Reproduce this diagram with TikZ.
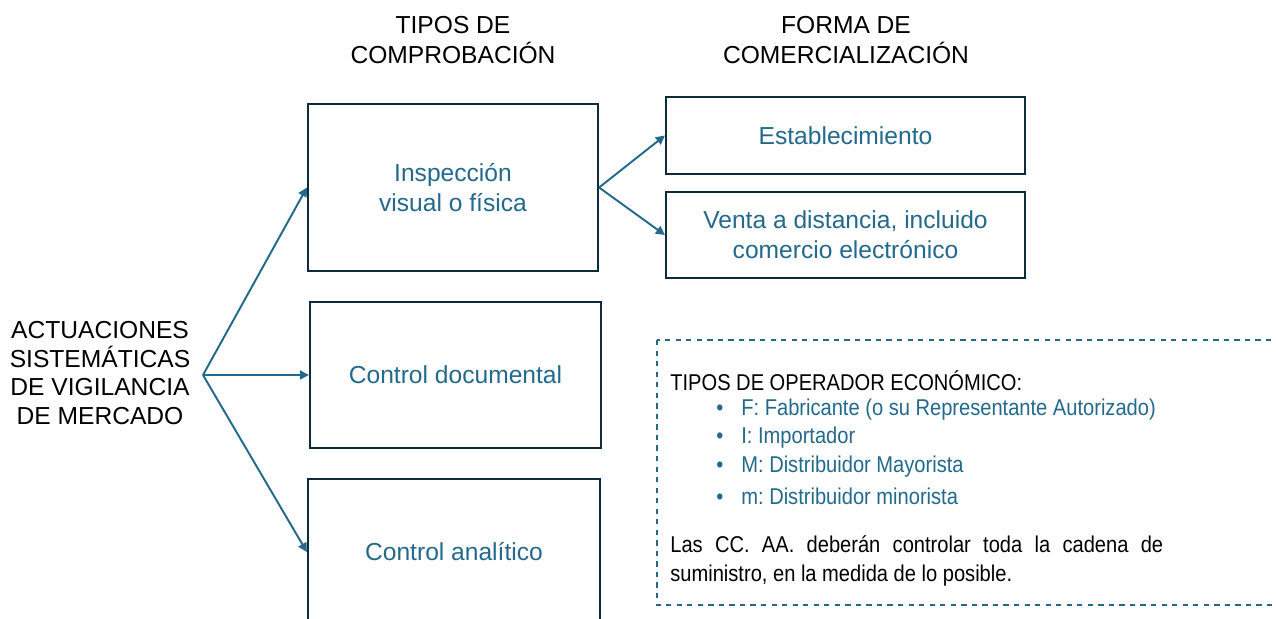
\documentclass[tikz,border=0pt]{standalone}
\usepackage{fontspec}
\setmainfont{Liberation Sans}
\newfontfamily\opsfont[FakeStretch=0.88]{Liberation Sans}
\usepackage{xcolor}
\usetikzlibrary{arrows.meta}

\definecolor{tealtext}{RGB}{35,105,140}
\definecolor{boxline}{RGB}{14,43,62}

\tikzset{
  checkbox/.style={draw=boxline, line width=1.3pt, rectangle, text=tealtext, align=center, font=\fontsize{14}{17}\selectfont},
  flow/.style={draw=tealtext, line width=1.1pt, -{Triangle[length=1.8mm,width=1.8mm]}},
  heading/.style={align=center, font=\fontsize{14}{17}\selectfont},
  opstext/.style={inner sep=0pt, font=\opsfont\fontsize{13}{15}\selectfont\frenchspacing}
}

\begin{document}
\begin{tikzpicture}[x=0.02cm, y=-0.02cm]
                            \useasboundingbox (0,0) rectangle (1276,619);
                            \clip (0,0) rectangle (1276,619);

                            % Column headings
                            \node[heading] (hcomp) at (453,40) {TIPOS DE\\COMPROBACIÓN};
                            \node[heading] (hcomer) at (846,40) {FORMA DE\\COMERCIALIZACIÓN};

                            % Starting point
                            \node[align=center, font=\fontsize{14}{16.2}\selectfont] (actu) at (100,373) {ACTUACIONES\\SISTEMÁTICAS\\DE VIGILANCIA\\DE MERCADO};
                            \coordinate (fork) at (203,375);

                            % Check types
                            \node[checkbox, minimum width=5.8cm, minimum height=3.34cm] (insp) at (453,187.5) {Inspección\\visual o física};
                            \node[checkbox, minimum width=5.82cm, minimum height=2.92cm] (doc) at (455.5,375) {Control documental};
                            \node[checkbox, minimum width=5.84cm, minimum height=2.92cm] (anal) at (454,552) {Control analítico};

                            % Sale channels
                            \node[checkbox, minimum width=7.18cm, minimum height=1.54cm] (estab) at (845.5,135.5) {Establecimiento};
                            \node[checkbox, minimum width=7.18cm, minimum height=1.72cm] (venta) at (845.5,235) {Venta a distancia, incluido\\comercio electrónico};

                            % Arrows
                            \draw[flow] (fork) -- (insp.west);
                            \draw[flow] (fork) -- (doc.west);
                            \draw[flow] (fork) -- (anal.west);
                            \draw[flow] (insp.east) -- (estab.west);
                            \draw[flow] (insp.east) -- (venta.west);

                            % Economic operators
                            \draw[tealtext, line width=0.8pt, dashed] (657,340) rectangle (1300,605);
                            \node[opstext, anchor=west] (ophead) at (670,381) {TIPOS DE OPERADOR ECONÓMICO:};
                            \node[opstext, anchor=west, text=tealtext] (opf) at (716,410) {\makebox[0.5cm][l]{•}F: Fabricante (o su Representante Autorizado)};
                            \node[opstext, anchor=west, text=tealtext] (opi) at (716,438) {\makebox[0.5cm][l]{•}I: Importador};
                            \node[opstext, anchor=west, text=tealtext] (opm) at (716,467) {\makebox[0.5cm][l]{•}M: Distribuidor Mayorista};
                            \node[opstext, anchor=west, text=tealtext] (opmin) at (716,496) {\makebox[0.5cm][l]{•}m: Distribuidor minorista};
                            \node[opstext, anchor=west, text width=9.86cm, align=justify, font=\opsfont\fontsize{13}{17}\selectfont\frenchspacing] (cadena) at (670,561) {Las CC. AA. deberán controlar toda la cadena de\linebreak suministro, en la medida de lo posible.};
                        \end{tikzpicture}
\end{document}
